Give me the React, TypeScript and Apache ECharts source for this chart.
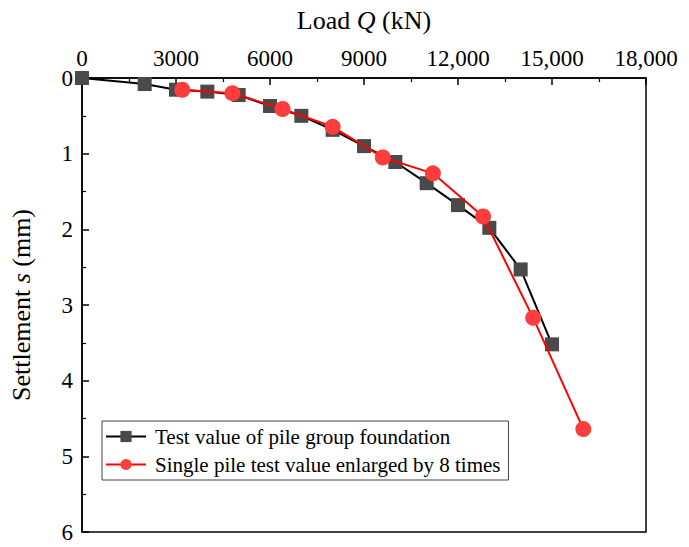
import React, { useEffect, useRef } from "react";
import * as echarts from "echarts";

const groupLoad = [0, 2000, 3000, 4000, 5000, 6000, 7000, 8000, 9000, 10000, 11000, 12000, 13000, 14000, 15000];
const groupSettle = [0, 0.08, 0.155, 0.18, 0.225, 0.37, 0.5, 0.685, 0.9, 1.11, 1.39, 1.68, 1.98, 2.53, 3.52];

const singleLoad = [3200, 4800, 6400, 8000, 9600, 11200, 12800, 14400, 16000];
const singleSettle = [0.155, 0.2, 0.41, 0.645, 1.05, 1.26, 1.83, 3.17, 4.64];

const xTicks = [0, 3000, 6000, 9000, 12000, 15000, 18000];
const xTickLabels = ["0", "3000", "6000", "9000", "12,000", "15,000", "18,000"];

const seriesNames = [
  "Test value of pile group foundation",
  "Single pile test value enlarged by 8 times",
];

const FONT = "'Liberation Serif', 'DejaVu Serif', serif";

export default function App() {
  const ref = useRef<HTMLDivElement>(null);
  useEffect(() => {
    if (!ref.current) return;
    const chart = echarts.init(ref.current, null, { renderer: "svg" });
    const groupData = groupLoad.map((q, i) => [q, groupSettle[i]]);
    const singleData = singleLoad.map((q, i) => [q, singleSettle[i]]);
    chart.setOption({
      animation: false,
      backgroundColor: "#fff",
      textStyle: { fontFamily: FONT, color: "#000" },
      grid: {
        left: 81,
        top: 78,
        right: 43,
        bottom: 15,
        show: true,
        borderColor: "#000",
        borderWidth: 1.5,
        backgroundColor: "transparent",
      },
      legend: {
        orient: "vertical",
        left: 102,
        top: 421,
        padding: [5, 8, 5, 3],
        itemGap: 7,
        itemWidth: 40,
        itemHeight: 14,
        borderColor: "#444",
        borderWidth: 1,
        backgroundColor: "#fff",
        textStyle: { fontFamily: FONT, fontSize: 21, color: "#000", padding: [0, 0, 0, 4] },
        data: seriesNames,
      },
      xAxis: {
        type: "value",
        position: "top",
        min: 0,
        max: 18000,
        interval: 3000,
        name: "{n|Load }{i|Q}{n| (kN)}",
        nameLocation: "middle",
        nameGap: 45,
        nameTextStyle: {
          rich: {
            n: { fontFamily: FONT, fontSize: 26, color: "#000" },
            i: { fontFamily: FONT, fontSize: 26, color: "#000", fontStyle: "italic" },
          },
        },
        axisLine: { show: true, lineStyle: { color: "#000", width: 1.5 } },
        axisTick: { show: true, inside: true, length: 7, lineStyle: { color: "#000", width: 1.5 } },
        minorTick: { show: true, splitNumber: 2, length: 4, lineStyle: { color: "#000", width: 1.2 } },
        splitLine: { show: false },
        axisLabel: {
          fontFamily: FONT,
          fontSize: 23,
          color: "#000",
          margin: 8,
          formatter: (v: number) => {
            const idx = xTicks.indexOf(v);
            return idx >= 0 ? xTickLabels[idx] : "";
          },
        },
      },
      yAxis: {
        type: "value",
        inverse: true,
        min: 0,
        max: 6,
        interval: 1,
        name: "{n|Settlement }{i|s}{n| (mm)}",
        nameLocation: "middle",
        nameGap: 48,
        nameRotate: 90,
        nameTextStyle: {
          rich: {
            n: { fontFamily: FONT, fontSize: 26, color: "#000" },
            i: { fontFamily: FONT, fontSize: 26, color: "#000", fontStyle: "italic" },
          },
        },
        axisLine: { show: true, lineStyle: { color: "#000", width: 1.5 } },
        axisTick: { show: true, inside: true, length: 7, lineStyle: { color: "#000", width: 1.5 } },
        minorTick: { show: true, splitNumber: 2, length: 4, lineStyle: { color: "#000", width: 1.2 } },
        splitLine: { show: false },
        axisLabel: { fontFamily: FONT, fontSize: 23, color: "#000", margin: 9 },
      },
      series: [
        {
          name: seriesNames[0],
          type: "line",
          data: groupData,
          symbol: "rect",
          symbolSize: 14,
          itemStyle: { color: "#4a4a4a" },
          lineStyle: { color: "#000", width: 2 },
          z: 2,
        },
        {
          name: seriesNames[1],
          type: "line",
          data: singleData,
          symbol: "circle",
          symbolSize: 16,
          itemStyle: { color: "#ff3d3d" },
          lineStyle: { color: "#ff0000", width: 2 },
          z: 3,
        },
      ],
    });
    return () => chart.dispose();
  }, []);
  return (
    <div
      ref={ref}
      style={{ position: "fixed", left: 0, top: 0, width: 689, height: 547, background: "#fff" }}
    />
  );
}
